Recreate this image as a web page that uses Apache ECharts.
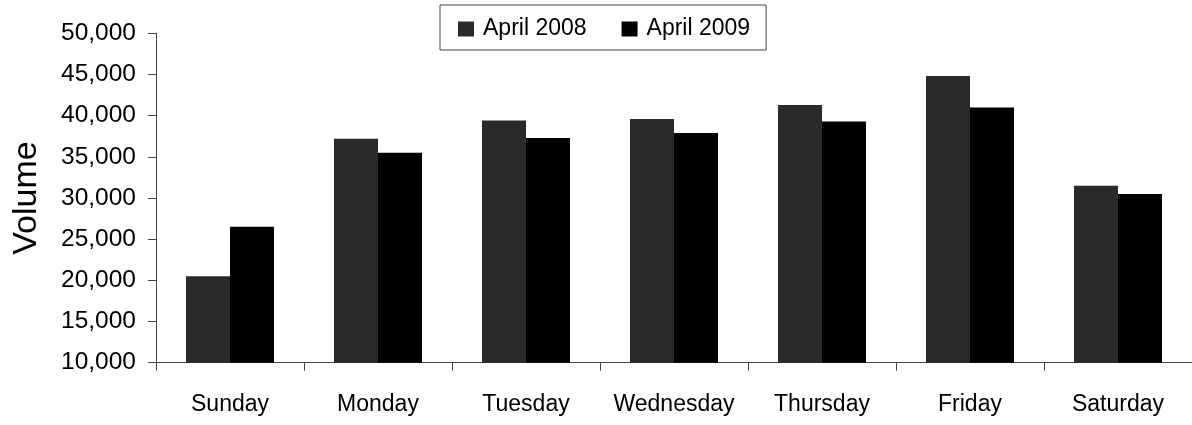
<!DOCTYPE html>
<html>
<head>
<meta charset="utf-8">
<script src="https://cdn.jsdelivr.net/npm/echarts@6/dist/echarts.min.js"></script>
<style>
html,body{margin:0;padding:0;background:#fff;}
#chart{width:1192px;height:425px;}
</style>
</head>
<body>
<div id="chart"></div>
<script>
const categories = ['Sunday','Monday','Tuesday','Wednesday','Thursday','Friday','Saturday'];
const april2008 = [20500, 37200, 39400, 39600, 41300, 44800, 31500];
const april2009 = [26500, 35500, 37300, 37900, 39300, 41000, 30500];
const seriesNames = ['April 2008','April 2009'];
const yAxisTitle = 'Volume';

const FONT = '"Liberation Sans", Arial, sans-serif';
const chart = echarts.init(document.getElementById('chart'));
chart.setOption({
  animation: false,
  backgroundColor: '#fff',
  textStyle: { fontFamily: FONT, color: '#000' },
  legend: {
    data: seriesNames,
    left: 440,
    top: 5,
    orient: 'horizontal',
    padding: [9, 16, 6, 18],
    itemWidth: 16,
    itemHeight: 15,
    itemGap: 35,
    borderColor: '#444',
    borderWidth: 1,
    icon: 'rect',
    textStyle: { fontSize: 23, fontFamily: FONT, color: '#000', lineHeight: 27, padding: [3, 0, 0, 4] }
  },
  grid: { left: 156, right: -9, top: 33.3, bottom: 62.3, containLabel: false },
  xAxis: {
    type: 'category',
    data: categories,
    axisLine: { lineStyle: { color: '#444', width: 1 } },
    axisTick: { show: true, interval: 0, length: 8, lineStyle: { color: '#444' } },
    axisLabel: { interval: 0, fontSize: 23, fontFamily: FONT, color: '#000', margin: 30 },
    splitLine: { show: false }
  },
  yAxis: {
    type: 'value',
    min: 10000,
    max: 50000,
    interval: 5000,
    name: yAxisTitle,
    nameLocation: 'middle',
    nameGap: 112,
    nameRotate: 90,
    nameTextStyle: { fontSize: 34, fontFamily: FONT, color: '#000' },
    axisLine: { show: true, lineStyle: { color: '#444', width: 1 } },
    axisTick: { show: true, length: 8, lineStyle: { color: '#444' } },
    axisLabel: { fontSize: 24.5, fontFamily: FONT, color: '#000', margin: 20,
      formatter: v => v.toLocaleString('en-US') },
    splitLine: { show: false }
  },
  series: [
    { name: seriesNames[0], type: 'bar', data: april2008, barWidth: 44, barGap: '0%',
      itemStyle: { color: '#2a2a2a' } },
    { name: seriesNames[1], type: 'bar', data: april2009, barWidth: 44, barGap: '0%',
      itemStyle: { color: '#000' } }
  ]
});
</script>
</body>
</html>
